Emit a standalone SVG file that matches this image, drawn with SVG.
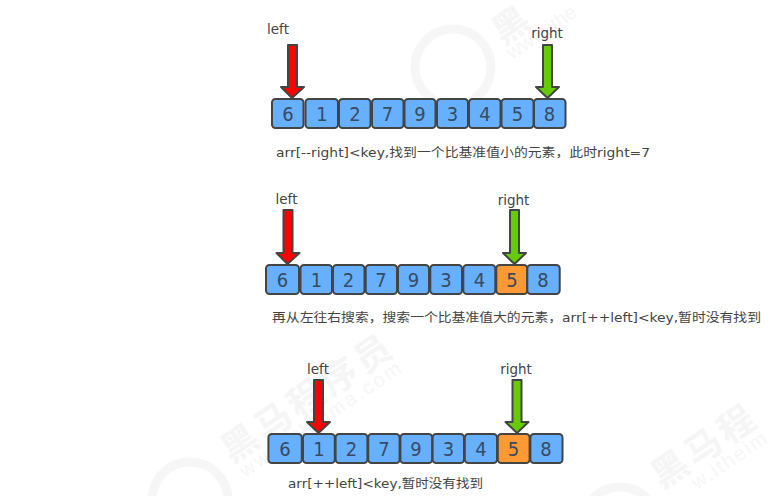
<svg xmlns="http://www.w3.org/2000/svg" width="772" height="496" viewBox="0 0 772 496">
<style>
text{font-family:"DejaVu Sans","Noto Sans CJK SC",sans-serif;fill:#444}
.c{fill:#66b0ff;stroke:#444;stroke-width:2}
.o{fill:#ff9933;stroke:#444;stroke-width:2}
.d{font-size:20px;font-stretch:condensed;text-anchor:middle;fill:#3a4a60}
.l{font-size:13.5px;text-anchor:middle}
.t{font-size:12.5px}
.r{fill:#ff0000;stroke:#444;stroke-width:2;stroke-linejoin:round}
.g{fill:#66cc00;stroke:#444;stroke-width:2;stroke-linejoin:round}
.wm{fill:#f5f5f5;font-weight:bold;font-size:36px;letter-spacing:4px;font-family:"Noto Sans CJK SC",sans-serif}
.wu{fill:#f6f6f6;font-size:20px;font-family:"Liberation Sans",sans-serif}
.lg{fill:none;stroke:#f6f6f6;stroke-width:9}
</style>
<rect width="772" height="496" fill="#fff"/>
<g id="watermark">
<circle class="lg" cx="453" cy="67" r="38"/>
<circle class="lg" cx="190" cy="500" r="38"/>
<circle class="lg" cx="620" cy="525" r="38"/>
<text class="wm" style="letter-spacing:0" transform="translate(503 46) rotate(-34)">黑</text>
<text class="wu" transform="translate(512 60) rotate(-34)" textLength="80">www.ithe</text>
<text class="wm" transform="translate(232 464) rotate(-34)">黑马程序员</text>
<text class="wu" transform="translate(245 478) rotate(-34)" textLength="190">www.itheima.com</text>
<text class="wm" transform="translate(662 490) rotate(-34)">黑马程</text>
<text class="wu" transform="translate(697 490) rotate(-34)" textLength="86">w.itheim</text>
</g>
<g id="connectors">
<path id="a1l" class="r" d="M288 45h9v42h7l-12 11-11-11h7z"/>
<path id="a1r" class="g" d="M543 45h9v42h7l-11.500 11-11.500-11h7z"/>
<path id="a2l" class="r" d="M283.500 210h9v43h7l-12 11-11-11h7z"/>
<path id="a2r" class="g" d="M510 210h9v43h7l-11.500 11-11.500-11h7z"/>
<path id="a3l" class="r" d="M314 380h9v42h7l-11.500 11-11.500-11h7z"/>
<path id="a3r" class="g" d="M512.500 380h9v42h7l-11.500 11-11.500-11h7z"/>
</g>
<g id="row1">
<text class="l" x="278" y="34">left</text><text class="l" x="547" y="38">right</text>
<g id="n1-0"><rect class="c" x="272" y="99" width="31.500" height="29" rx="3.500"/><text class="d" x="288" y="121">6</text></g>
<g id="n1-1"><rect class="c" x="305.500" y="99" width="32.500" height="29" rx="3.500"/><text class="d" x="322" y="121">1</text></g>
<g id="n1-2"><rect class="c" x="339" y="99" width="31.500" height="29" rx="3.500"/><text class="d" x="355" y="121">2</text></g>
<g id="n1-3"><rect class="c" x="372" y="99" width="31.500" height="29" rx="3.500"/><text class="d" x="387.500" y="121">7</text></g>
<g id="n1-4"><rect class="c" x="404.500" y="99" width="31" height="29" rx="3.500"/><text class="d" x="420" y="121">9</text></g>
<g id="n1-5"><rect class="c" x="437" y="99" width="31" height="29" rx="3.500"/><text class="d" x="452.500" y="121">3</text></g>
<g id="n1-6"><rect class="c" x="469" y="99" width="31.500" height="29" rx="3.500"/><text class="d" x="485" y="121">4</text></g>
<g id="n1-7"><rect class="c" x="501.500" y="99" width="32" height="29" rx="3.500"/><text class="d" x="517.500" y="121">5</text></g>
<g id="n1-8"><rect class="c" x="534" y="99" width="31.500" height="29" rx="3.500"/><text class="d" x="549.500" y="121">8</text></g>
<text class="t" x="276" y="157" textLength="374" lengthAdjust="spacingAndGlyphs">arr[--right]&lt;key,找到一个比基准值小的元素，此时right=7</text>
</g>
<g id="row2">
<text class="l" x="286.500" y="204">left</text><text class="l" x="513.500" y="205">right</text>
<g id="n2-0"><rect class="c" x="266" y="265" width="33" height="29" rx="3.500"/><text class="d" x="282.500" y="287">6</text></g>
<g id="n2-1"><rect class="c" x="300.500" y="265" width="31.500" height="29" rx="3.500"/><text class="d" x="316.500" y="287">1</text></g>
<g id="n2-2"><rect class="c" x="333" y="265" width="31.500" height="29" rx="3.500"/><text class="d" x="348.500" y="287">2</text></g>
<g id="n2-3"><rect class="c" x="365.700" y="265" width="31.300" height="29" rx="3.500"/><text class="d" x="381" y="287">7</text></g>
<g id="n2-4"><rect class="c" x="398" y="265" width="31" height="29" rx="3.500"/><text class="d" x="413.500" y="287">9</text></g>
<g id="n2-5"><rect class="c" x="430.300" y="265" width="31.700" height="29" rx="3.500"/><text class="d" x="446" y="287">3</text></g>
<g id="n2-6"><rect class="c" x="463.300" y="265" width="32" height="29" rx="3.500"/><text class="d" x="479.500" y="287">4</text></g>
<g id="n2-7"><rect class="o" x="496.300" y="265" width="31" height="29" rx="3.500"/><text class="d" x="512" y="287">5</text></g>
<g id="n2-8"><rect class="c" x="527.300" y="265" width="32.400" height="29" rx="3.500"/><text class="d" x="543" y="287">8</text></g>
<text class="t" x="272" y="322" textLength="489" lengthAdjust="spacingAndGlyphs">再从左往右搜索，搜索一个比基准值大的元素，arr[++left]&lt;key,暂时没有找到</text>
</g>
<g id="row3">
<text class="l" x="318" y="374">left</text><text class="l" x="516" y="374">right</text>
<g id="n3-0"><rect class="c" x="268.400" y="434" width="33.400" height="29" rx="3.500"/><text class="d" x="285" y="456">6</text></g>
<g id="n3-1"><rect class="c" x="303" y="434" width="31.800" height="29" rx="3.500"/><text class="d" x="319" y="456">1</text></g>
<g id="n3-2"><rect class="c" x="335.600" y="434" width="31.800" height="29" rx="3.500"/><text class="d" x="351.500" y="456">2</text></g>
<g id="n3-3"><rect class="c" x="368.200" y="434" width="31.400" height="29" rx="3.500"/><text class="d" x="384" y="456">7</text></g>
<g id="n3-4"><rect class="c" x="400.400" y="434" width="31.800" height="29" rx="3.500"/><text class="d" x="416" y="456">9</text></g>
<g id="n3-5"><rect class="c" x="432.600" y="434" width="31.400" height="29" rx="3.500"/><text class="d" x="448.500" y="456">3</text></g>
<g id="n3-6"><rect class="c" x="464.800" y="434" width="32.200" height="29" rx="3.500"/><text class="d" x="481" y="456">4</text></g>
<g id="n3-7"><rect class="o" x="497.800" y="434" width="31.800" height="29" rx="3.500"/><text class="d" x="513.500" y="456">5</text></g>
<g id="n3-8"><rect class="c" x="530.400" y="434" width="32.100" height="29" rx="3.500"/><text class="d" x="546" y="456">8</text></g>
<text class="t" x="288" y="488" textLength="195" lengthAdjust="spacingAndGlyphs">arr[++left]&lt;key,暂时没有找到</text>
</g>
</svg>
